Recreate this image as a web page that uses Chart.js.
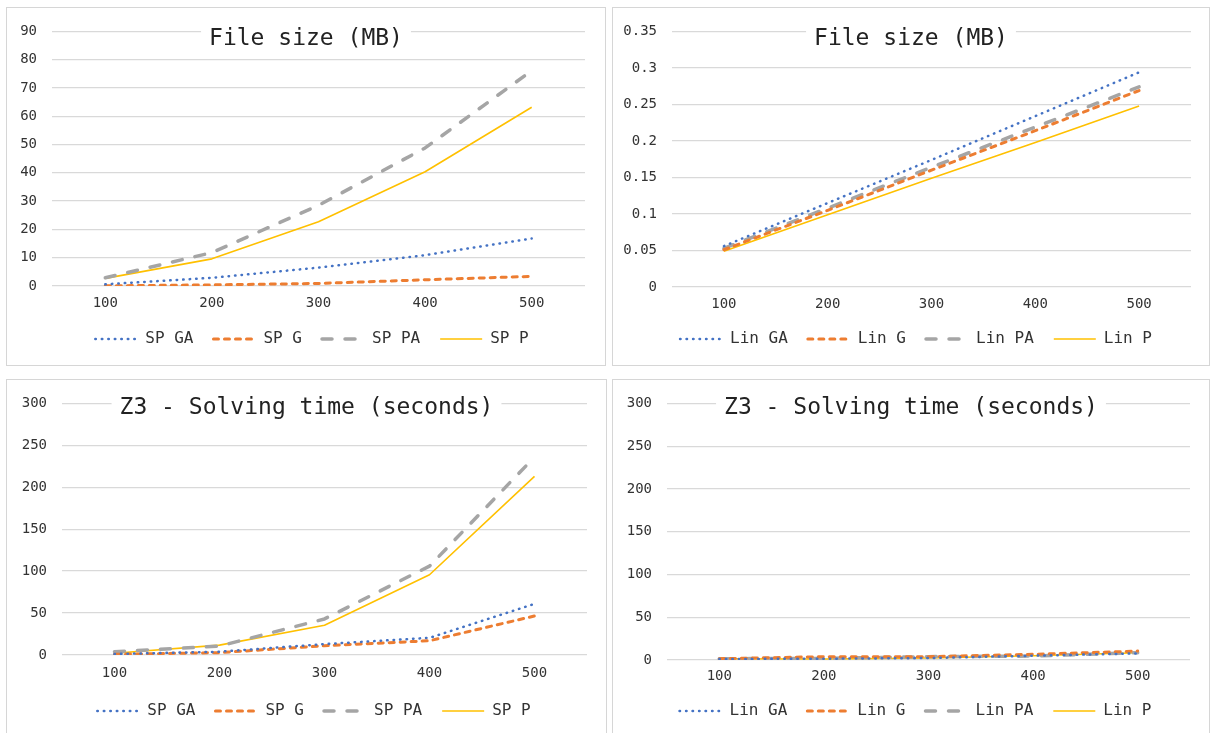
<!DOCTYPE html>
<html>
<head>
<meta charset="utf-8">
<script src="https://cdn.jsdelivr.net/npm/chart.js@4.4.1/dist/chart.umd.min.js"></script>
<style>
  body { margin: 0; background: #fff; width: 1213px; height: 733px; overflow: hidden; position: relative; }
  .panel { position: absolute; border: 1px solid #d6d6d6; background: #fff; }
  .panel canvas { display: block; }
</style>
</head>
<body>
<div class="panel" style="left:6px;top:7px;width:598px;height:357px"><canvas id="c1" width="598" height="357"></canvas></div>
<div class="panel" style="left:612px;top:7px;width:596px;height:357px"><canvas id="c2" width="596" height="357"></canvas></div>
<div class="panel" style="left:6px;top:379px;width:599px;height:358px"><canvas id="c3" width="599" height="358"></canvas></div>
<div class="panel" style="left:612px;top:379px;width:596px;height:358px"><canvas id="c4" width="596" height="358"></canvas></div>
<script>
// Categories (x axis) and titles
const sizes = ['100', '200', '300', '400', '500'];
const titleFile = 'File size (MB)';
const titleTime = 'Z3 - Solving time (seconds)';

// Series names
const spNames = ['SP GA', 'SP G', 'SP PA', 'SP P'];
const linNames = ['Lin GA', 'Lin G', 'Lin PA', 'Lin P'];

// File size (MB) - SP
const spFileGA = [0.6, 2.9, 6.5, 10.9, 16.8];
const spFileG = [0.05, 0.4, 0.9, 2.2, 3.4];
const spFilePA = [2.9, 11.8, 28.5, 48.8, 76.1];
const spFileP = [2.7, 9.6, 22.7, 40.4, 63.2];

// File size (MB) - Lin
const linFileGA = [0.056, 0.115, 0.174, 0.234, 0.294];
const linFileG = [0.051, 0.105, 0.160, 0.214, 0.269];
const linFilePA = [0.053, 0.108, 0.164, 0.219, 0.274];
const linFileP = [0.049, 0.099, 0.149, 0.198, 0.248];

// Z3 solving time (seconds) - SP
const spTimeGA = [1.2, 3.9, 13, 20.5, 61];
const spTimeG = [0.8, 2.8, 11, 17, 46.5];
const spTimePA = [3.9, 10.6, 43, 106, 236];
const spTimeP = [2, 11.8, 35.4, 95.7, 213];

// Z3 solving time (seconds) - Lin
const linTimeGA = [1.2, 1.5, 2.3, 5, 7.7];
const linTimeG = [1.5, 3.9, 3.9, 6.6, 10.4];
const linTimePA = [1.5, 1.9, 3.9, 4.6, 8.5];
const linTimeP = [1.5, 1.2, 2.3, 5, 8.5];

// y axis ranges [min, max, step]
const fileSpAxis = [0, 90, 10];
const fileLinAxis = [0, 0.35, 0.05];
const timeAxis = [0, 300, 50];

const FONT = '"DejaVu Sans Mono", monospace';
const colors = ['#4472C4', '#ED7D31', '#A5A5A5', '#FFC000'];
const dashes = [[0.5, 6], [5, 6], [10, 13], []];
const widths = [2.5, 3, 3.5, 1.6];
const caps = ['round', 'round', 'round', 'butt'];

// Title drawn over the plot area with a white box behind it (like the original)
const panelTitle = {
    id: 'panelTitle',
    afterLayout(chart, args, opts) {
        // nudge the legend row sideways
        chart.legend.left += opts.legendShift;
        chart.legend.right += opts.legendShift;
    },
    beforeDatasetsDraw(chart, args, opts) {
        const ctx = chart.ctx;
        ctx.save();
        ctx.font = opts.size + 'px ' + FONT;
        const w = ctx.measureText(opts.text).width;
        const cx = chart.width / 2;
        ctx.fillStyle = '#fff';
        ctx.fillRect(cx - w / 2 - 8, opts.y - 16, w + 16, 32);
        ctx.fillStyle = '#222';
        ctx.textAlign = 'center';
        ctx.textBaseline = 'middle';
        ctx.fillText(opts.text, cx, opts.y);
        ctx.restore();
    }
};

// legend samples use the dataset's own line style (dash, cap, width)
function legendLabels(chart) {
    const items = Chart.defaults.plugins.legend.labels.generateLabels(chart);
    items.forEach(item => {
        const ds = chart.data.datasets[item.datasetIndex];
        item.pointStyle = 'line';
        item.lineDash = ds.borderDash;
        item.lineCap = ds.borderCapStyle;
        item.lineWidth = ds.borderWidth;
        item.strokeStyle = ds.borderColor;
        item.fillStyle = ds.borderColor;
    });
    return items;
}

function makeChart(id, geo, title, names, values, axis) {
    const ctx = document.getElementById(id).getContext('2d');
    return new Chart(ctx, {
        type: 'line',
        data: {
            labels: sizes,
            datasets: names.map((name, i) => ({
                label: name,
                data: values[i],
                borderColor: colors[i],
                backgroundColor: colors[i],
                borderWidth: widths[i],
                borderDash: dashes[i],
                borderCapStyle: caps[i],
                borderJoinStyle: 'round',
                pointRadius: 0,
                tension: 0,
                fill: false,
            })),
        },
        options: {
            responsive: false,
            animation: false,
            layout: { padding: { left: 0, right: geo.right, top: geo.top, bottom: geo.bottom } },
            plugins: {
                tooltip: { enabled: false },
                title: { display: false },
                panelTitle: { text: title, size: 23, y: geo.titleY, legendShift: geo.shift },
                legend: {
                    position: 'bottom',
                    labels: {
                        usePointStyle: true,
                        pointStyle: 'line',
                        pointStyleWidth: 42,
                        padding: 20,
                        color: '#333',
                        font: { family: FONT, size: 16 },
                        generateLabels: legendLabels,
                    }
                }
            },
            scales: {
                x: {
                    offset: true,
                    grid: { display: false, drawTicks: false },
                    border: { display: false },
                    ticks: { color: '#333', padding: geo.xPad, font: { family: FONT, size: 14 } },
                    afterFit: (scale) => { scale.height = geo.xHeight; },
                },
                y: {
                    min: axis[0],
                    max: axis[1],
                    grid: { color: '#d9d9d9', lineWidth: 1.3, drawTicks: false },
                    border: { display: false },
                    ticks: {
                        stepSize: axis[2],
                        padding: 15,
                        color: '#333',
                        font: { family: FONT, size: 14 },
                        callback: (v) => String(+Number(v).toFixed(2)),
                    },
                    afterFit: (scale) => { scale.width = geo.left; },
                }
            }
        },
        plugins: [panelTitle]
    });
}

makeChart('c1', { left: 45, right: 20, top: 22, bottom: 8, xHeight: 25, xPad: 9, titleY: 31, shift: 16 },
    titleFile, spNames, [spFileGA, spFileG, spFilePA, spFileP], fileSpAxis);
makeChart('c2', { left: 59, right: 18, top: 22, bottom: 8, xHeight: 24, xPad: 9, titleY: 31, shift: 14 },
    titleFile, linNames, [linFileGA, linFileG, linFilePA, linFileP], fileLinAxis);
makeChart('c3', { left: 55, right: 19, top: 21, bottom: 9, xHeight: 28, xPad: 10, titleY: 28, shift: 17 },
    titleTime, spNames, [spTimeGA, spTimeG, spTimePA, spTimeP], timeAxis);
makeChart('c4', { left: 54, right: 19, top: 21, bottom: 9, xHeight: 23, xPad: 8, titleY: 28, shift: 14 },
    titleTime, linNames, [linTimeGA, linTimeG, linTimePA, linTimeP], timeAxis);
</script>
</body>
</html>
